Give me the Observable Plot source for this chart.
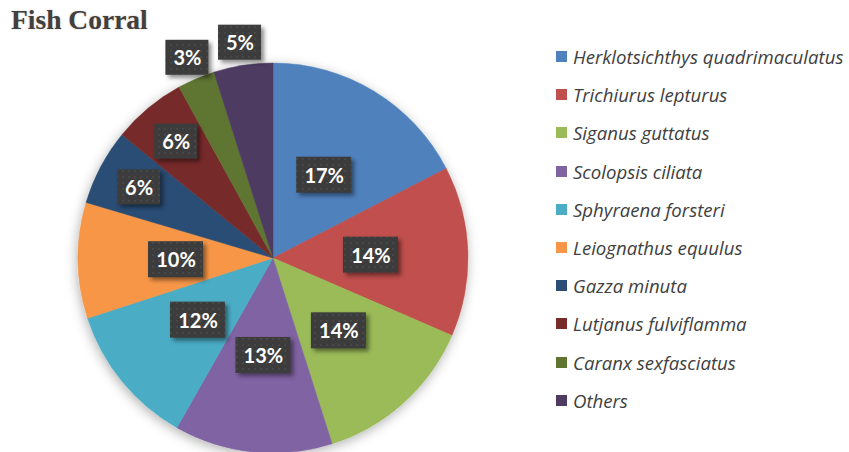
<!DOCTYPE html>
<html><head><meta charset="utf-8">
<script src="https://cdn.jsdelivr.net/npm/d3@7"></script>
<script src="https://cdn.jsdelivr.net/npm/@observablehq/plot@0.6"></script>
<style>
body{margin:0;background:#fff;}
#wrap{position:relative;width:849px;height:452px;overflow:hidden;background:#fff;}
#chart{position:absolute;left:0;top:0;}
#title{position:absolute;left:11px;top:4px;font:bold 27.5px "Liberation Serif";color:#404040;text-shadow:0 0 2px rgba(120,90,60,0.35);}
#legend{position:absolute;left:556px;top:0;}
.item{position:absolute;left:0;white-space:nowrap;font:italic 18.6px "Open Sans";color:#404040;line-height:24px;height:24px;}
.sw{position:absolute;left:0;top:6px;width:11px;height:11px;}
.lbl{position:absolute;left:17px;top:0;}
g[aria-label="rect"]{filter:drop-shadow(3px 3px 2px rgba(0,0,0,0.45));}
</style></head><body>
<div id="wrap"><div id="chart"></div><div id="title">Fish Corral</div><div id="legend"></div></div>
<script>
const species = [
  "Herklotsichthys quadrimaculatus",
  "Trichiurus lepturus",
  "Siganus guttatus",
  "Scolopsis ciliata",
  "Sphyraena forsteri",
  "Leiognathus equulus",
  "Gazza minuta",
  "Lutjanus fulviflamma",
  "Caranx sexfasciatus",
  "Others"
];
const shares = [17.4, 14.1, 13.6, 13.1, 11.8, 9.6, 6.3, 6.1, 3.1, 4.9];
const colors = ["#4F81BD","#C0504D","#9BBB59","#8064A2","#4BACC6","#F79646","#2C4D75","#772C2A","#5F7530","#4D3B62"];

const data = species.map((s, i) => ({species: s, share: shares[i], color: colors[i]}));
const arcs = d3.pie().sort(null).value(d => d.share)(data);
const labels = arcs.map(a => {
  const mid = (a.startAngle + a.endAngle) / 2;
  const v = a.data.share;
  const k = v >= 9 ? 0.5 : v >= 5.5 ? 0.78 : 1.12;
  return {x: k * Math.sin(mid), y: k * Math.cos(mid), text: Math.round(v) + "%", wide: Math.round(v) >= 10};
});

const CX = 273, CY = 258, R = 195;

function wedges(index, scales) {
  const g = d3.create("svg:g");
  const cx = scales.x(0), cy = scales.y(0), r = scales.x(1) - cx;
  const defs = g.append("defs");
  const f = defs.append("filter").attr("id", "pieShadow").attr("x", "-20%").attr("y", "-20%").attr("width", "140%").attr("height", "140%");
  f.append("feDropShadow").attr("dx", -1).attr("dy", 3).attr("stdDeviation", 6).attr("flood-color", "#000").attr("flood-opacity", 0.3);
  const p = defs.append("pattern").attr("id", "dots").attr("width", 6).attr("height", 6).attr("patternUnits", "userSpaceOnUse");
  p.append("rect").attr("width", 6).attr("height", 6).attr("fill", "#3c3c3c");
  p.append("circle").attr("cx", 3).attr("cy", 3).attr("r", 0.8).attr("fill", "#555");
  const arc = d3.arc().innerRadius(0).outerRadius(r);
  g.append("g").attr("filter", "url(#pieShadow)").attr("transform", `translate(${cx},${cy})`)
    .selectAll("path").data(arcs).join("path")
    .attr("d", arc).attr("fill", d => d.data.color).attr("stroke", d => d.data.color).attr("stroke-width", 0.5);
  return g.node();
}

const wide = labels.filter(d => d.wide), narrow = labels.filter(d => !d.wide);

const chart = Plot.plot({
  width: 849, height: 452, margin: 0,
  x: {axis: null, domain: [-1, 1], range: [CX - R, CX + R]},
  y: {axis: null, domain: [-1, 1], range: [CY + R, CY - R]},
  style: {background: "transparent"},
  marks: [
    wedges,
    Plot.rect(wide, {x1: "x", x2: "x", y1: "y", y2: "y", fill: "url(#dots)", insetLeft: -27.5, insetRight: -27.5, insetTop: -18, insetBottom: -18}),
    Plot.rect(narrow, {x1: "x", x2: "x", y1: "y", y2: "y", fill: "url(#dots)", insetLeft: -21.5, insetRight: -21.5, insetTop: -17.5, insetBottom: -17.5}),
    Plot.text(labels, {x: "x", y: "y", text: "text", fill: "white", fontWeight: "bold", fontSize: 20, fontFamily: "Lato", dy: 1})
  ]
});
document.getElementById("chart").appendChild(chart);

const legend = d3.select("#legend");
const items = legend.selectAll("div.item").data(data).join("div").attr("class", "item")
  .style("top", (d, i) => (57 + i * 38.2 - 12) + "px");
items.append("div").attr("class", "sw").style("background", d => d.color);
items.append("div").attr("class", "lbl").text(d => d.species);
</script>
</body></html>
